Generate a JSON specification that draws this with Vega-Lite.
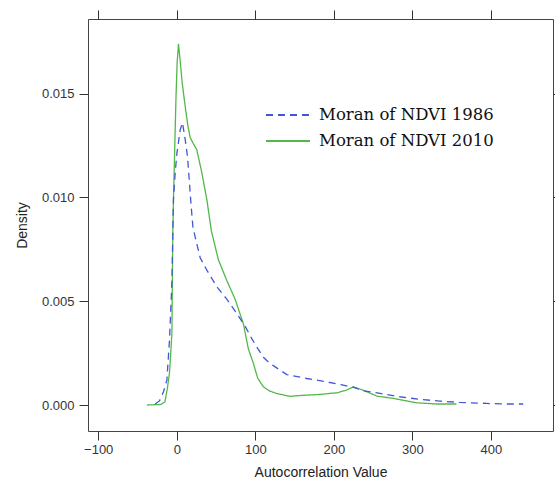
{
  "$schema": "https://vega.github.io/schema/vega-lite/v6.json",
  "width": 465,
  "height": 412,
  "autosize": {"type": "none"},
  "padding": {"left": 88, "top": 19, "right": 2, "bottom": 56},
  "background": "white",
  "config": {
    "view": {"stroke": "#444444", "strokeWidth": 1},
    "axis": {"domain": false, "grid": false, "tickColor": "#333333", "tickSize": 9, "labelColor": "#333333", "labelFont": "Liberation Sans", "labelFontSize": 13, "titleFont": "Liberation Sans", "titleFontSize": 14, "titleFontWeight": "normal", "titleColor": "#222222"}
  },
  "data": {"values": [
    {"v": -38, "d": 0, "s": "Moran of NDVI 2010"},
    {"v": -20, "d": 0.00003, "s": "Moran of NDVI 2010"},
    {"v": -15, "d": 0.00016, "s": "Moran of NDVI 2010"},
    {"v": -12, "d": 0.0008, "s": "Moran of NDVI 2010"},
    {"v": -9.3, "d": 0.00154, "s": "Moran of NDVI 2010"},
    {"v": -7.5, "d": 0.0026, "s": "Moran of NDVI 2010"},
    {"v": -6.2, "d": 0.00347, "s": "Moran of NDVI 2010"},
    {"v": -5, "d": 0.0084, "s": "Moran of NDVI 2010"},
    {"v": -4.2, "d": 0.0099, "s": "Moran of NDVI 2010"},
    {"v": -2.5, "d": 0.0125, "s": "Moran of NDVI 2010"},
    {"v": -1, "d": 0.0148, "s": "Moran of NDVI 2010"},
    {"v": 0.5, "d": 0.0165, "s": "Moran of NDVI 2010"},
    {"v": 2.2, "d": 0.0174, "s": "Moran of NDVI 2010"},
    {"v": 4.3, "d": 0.0166, "s": "Moran of NDVI 2010"},
    {"v": 7, "d": 0.0155, "s": "Moran of NDVI 2010"},
    {"v": 10.7, "d": 0.0144, "s": "Moran of NDVI 2010"},
    {"v": 14, "d": 0.0135, "s": "Moran of NDVI 2010"},
    {"v": 17, "d": 0.0129, "s": "Moran of NDVI 2010"},
    {"v": 21, "d": 0.0126, "s": "Moran of NDVI 2010"},
    {"v": 25.5, "d": 0.0123, "s": "Moran of NDVI 2010"},
    {"v": 31.9, "d": 0.0112, "s": "Moran of NDVI 2010"},
    {"v": 38.3, "d": 0.0099, "s": "Moran of NDVI 2010"},
    {"v": 44, "d": 0.0084, "s": "Moran of NDVI 2010"},
    {"v": 53, "d": 0.0070, "s": "Moran of NDVI 2010"},
    {"v": 63.7, "d": 0.0060, "s": "Moran of NDVI 2010"},
    {"v": 74.3, "d": 0.0051, "s": "Moran of NDVI 2010"},
    {"v": 84.9, "d": 0.0039, "s": "Moran of NDVI 2010"},
    {"v": 91.2, "d": 0.0027, "s": "Moran of NDVI 2010"},
    {"v": 97.6, "d": 0.0020, "s": "Moran of NDVI 2010"},
    {"v": 103, "d": 0.0013, "s": "Moran of NDVI 2010"},
    {"v": 110.3, "d": 0.00088, "s": "Moran of NDVI 2010"},
    {"v": 118, "d": 0.00068, "s": "Moran of NDVI 2010"},
    {"v": 127, "d": 0.00056, "s": "Moran of NDVI 2010"},
    {"v": 144, "d": 0.00042, "s": "Moran of NDVI 2010"},
    {"v": 161, "d": 0.00047, "s": "Moran of NDVI 2010"},
    {"v": 182, "d": 0.00051, "s": "Moran of NDVI 2010"},
    {"v": 195, "d": 0.00056, "s": "Moran of NDVI 2010"},
    {"v": 204, "d": 0.00059, "s": "Moran of NDVI 2010"},
    {"v": 216, "d": 0.00072, "s": "Moran of NDVI 2010"},
    {"v": 225, "d": 0.00088, "s": "Moran of NDVI 2010"},
    {"v": 237, "d": 0.00072, "s": "Moran of NDVI 2010"},
    {"v": 255, "d": 0.00043, "s": "Moran of NDVI 2010"},
    {"v": 276, "d": 0.00032, "s": "Moran of NDVI 2010"},
    {"v": 305, "d": 0.00011, "s": "Moran of NDVI 2010"},
    {"v": 331, "d": 0.00005, "s": "Moran of NDVI 2010"},
    {"v": 356, "d": 0.00005, "s": "Moran of NDVI 2010"},
    {"v": -27.5, "d": 0.00005, "s": "Moran of NDVI 1986"},
    {"v": -22, "d": 0.0002, "s": "Moran of NDVI 1986"},
    {"v": -16.9, "d": 0.00064, "s": "Moran of NDVI 1986"},
    {"v": -12.6, "d": 0.0012, "s": "Moran of NDVI 1986"},
    {"v": -9.3, "d": 0.0031, "s": "Moran of NDVI 1986"},
    {"v": -6.2, "d": 0.0059, "s": "Moran of NDVI 1986"},
    {"v": -4.2, "d": 0.0099, "s": "Moran of NDVI 1986"},
    {"v": -2, "d": 0.0112, "s": "Moran of NDVI 1986"},
    {"v": 0.1, "d": 0.0121, "s": "Moran of NDVI 1986"},
    {"v": 4.3, "d": 0.01325, "s": "Moran of NDVI 1986"},
    {"v": 7.3, "d": 0.0136, "s": "Moran of NDVI 1986"},
    {"v": 10.7, "d": 0.0128, "s": "Moran of NDVI 1986"},
    {"v": 13.6, "d": 0.0120, "s": "Moran of NDVI 1986"},
    {"v": 16.2, "d": 0.0107, "s": "Moran of NDVI 1986"},
    {"v": 18.3, "d": 0.0096, "s": "Moran of NDVI 1986"},
    {"v": 20.5, "d": 0.0086, "s": "Moran of NDVI 1986"},
    {"v": 23.4, "d": 0.0081, "s": "Moran of NDVI 1986"},
    {"v": 29.8, "d": 0.0071, "s": "Moran of NDVI 1986"},
    {"v": 38.3, "d": 0.0065, "s": "Moran of NDVI 1986"},
    {"v": 51, "d": 0.0057, "s": "Moran of NDVI 1986"},
    {"v": 63.7, "d": 0.0051, "s": "Moran of NDVI 1986"},
    {"v": 76.5, "d": 0.0044, "s": "Moran of NDVI 1986"},
    {"v": 87, "d": 0.0038, "s": "Moran of NDVI 1986"},
    {"v": 95.5, "d": 0.0032, "s": "Moran of NDVI 1986"},
    {"v": 101.9, "d": 0.0028, "s": "Moran of NDVI 1986"},
    {"v": 110.3, "d": 0.0023, "s": "Moran of NDVI 1986"},
    {"v": 118.8, "d": 0.0020, "s": "Moran of NDVI 1986"},
    {"v": 123, "d": 0.0019, "s": "Moran of NDVI 1986"},
    {"v": 140, "d": 0.00147, "s": "Moran of NDVI 1986"},
    {"v": 165.5, "d": 0.00128, "s": "Moran of NDVI 1986"},
    {"v": 188, "d": 0.00114, "s": "Moran of NDVI 1986"},
    {"v": 212, "d": 0.00096, "s": "Moran of NDVI 1986"},
    {"v": 225, "d": 0.00085, "s": "Moran of NDVI 1986"},
    {"v": 237.5, "d": 0.00069, "s": "Moran of NDVI 1986"},
    {"v": 258.8, "d": 0.00056, "s": "Moran of NDVI 1986"},
    {"v": 284, "d": 0.0004, "s": "Moran of NDVI 1986"},
    {"v": 310, "d": 0.00027, "s": "Moran of NDVI 1986"},
    {"v": 335, "d": 0.00019, "s": "Moran of NDVI 1986"},
    {"v": 360, "d": 0.00013, "s": "Moran of NDVI 1986"},
    {"v": 394, "d": 0.00008, "s": "Moran of NDVI 1986"},
    {"v": 416, "d": 0.00005, "s": "Moran of NDVI 1986"},
    {"v": 441, "d": 0.00005, "s": "Moran of NDVI 1986"}
  ]},
  "layer": [
    {
      "mark": {"type": "line", "strokeWidth": 1.3, "interpolate": "linear"},
      "encoding": {
        "x": {"field": "v", "type": "quantitative", "scale": {"domain": [-113, 479], "nice": false, "zero": false},
              "axis": {"orient": "bottom", "values": [-100, 0, 100, 200, 300, 400], "title": "Autocorrelation Value", "labelPadding": 3, "titlePadding": 9}},
        "y": {"field": "d", "type": "quantitative", "scale": {"domain": [-0.00125, 0.0186], "nice": false, "zero": false},
              "axis": {"orient": "left", "values": [0, 0.005, 0.01, 0.015], "format": ".3f", "title": "Density", "labelPadding": 5, "titlePadding": 12}},
        "color": {"field": "s", "type": "nominal",
                  "scale": {"domain": ["Moran of NDVI 1986", "Moran of NDVI 2010"], "range": ["#4058d8", "#52b84a"]},
                  "legend": {"title": null, "orient": "none", "legendX": 188, "legendY": 84, "symbolType": "M-2,0L2,0", "symbolSize": 484, "symbolStrokeWidth": 2, "symbolFillColor": "transparent", "labelFont": "DejaVu Serif", "labelFontSize": 16.5, "labelLimit": 0, "labelColor": "#111111", "rowPadding": 5, "labelOffset": 19}},
        "strokeDash": {"field": "s", "type": "nominal",
                       "scale": {"domain": ["Moran of NDVI 1986", "Moran of NDVI 2010"], "range": [[7, 5], [1, 0]]},
                       "legend": {"title": null, "orient": "none", "legendX": 188, "legendY": 84, "symbolType": "M-2,0L2,0", "symbolSize": 484, "symbolStrokeWidth": 2, "symbolFillColor": "transparent", "labelFont": "DejaVu Serif", "labelFontSize": 16.5, "labelLimit": 0, "labelColor": "#111111", "rowPadding": 5, "labelOffset": 19}},
        "detail": {"field": "s"}
      }
    },
    {
      "mark": {"type": "line", "opacity": 0},
      "encoding": {
        "x": {"field": "v", "type": "quantitative", "scale": {"domain": [-113, 479], "nice": false, "zero": false},
              "axis": {"orient": "top", "values": [-100, 0, 100, 200, 300, 400], "labels": false, "title": null}},
        "y": {"field": "d", "type": "quantitative", "scale": {"domain": [-0.00125, 0.0186], "nice": false, "zero": false},
              "axis": {"orient": "right", "values": [0, 0.005, 0.01, 0.015], "labels": false, "title": null}},
        "detail": {"field": "s"}
      }
    }
  ],
  "resolve": {"axis": {"x": "independent", "y": "independent"}}
}
